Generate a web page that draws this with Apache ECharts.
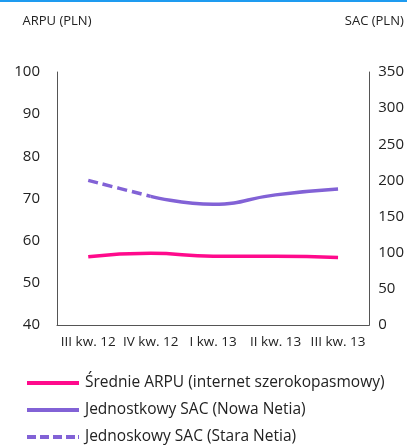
<!DOCTYPE html>
<html>
<head>
<meta charset="utf-8">
<script src="https://cdn.jsdelivr.net/npm/echarts@6/dist/echarts.min.js"></script>
<style>
  html, body { margin: 0; padding: 0; background: #fff; }
  #chart { width: 407px; height: 446px; }
</style>
</head>
<body>
<div id="chart"></div>
<script>
// dane
const quarters = ['III kw. 12', 'IV kw. 12', 'I kw. 13', 'II kw. 13', 'III kw. 13']
const arpu = [56.2, 57.0, 56.3, 56.3, 56.0]
const sacNowa = [null, 178, 167, 180, 188]
const sacStara = [200, 178, null, null, null]
const names = [
  'Średnie ARPU (internet szerokopasmowy)',
  'Jednostkowy SAC (Nowa Netia)',
  'Jednoskowy SAC (Stara Netia)'
]

const font = 'Open Sans'
const txt = '#222'
const pink = '#ff0a8c'
const purple = '#8262d6'

const solidIcon = 'path://M0,0H52V4H0Z'
const dashIcon = 'path://M0,0H9V4H0ZM13,0H22V4H13ZM26,0H35V4H26ZM39,0H48V4H39ZM51,0H52V4H51Z'

function legendAt(top, name, icon) {
  return {
    orient: 'vertical',
    left: 22,
    top: top,
    itemWidth: 54,
    itemHeight: 4,
    icon: icon,
    textStyle: { color: txt, fontSize: 15.5, fontFamily: font },
    data: [name]
  }
}

const myChart = echarts.init(document.getElementById('chart'))
const option = {
  animation: false,
  textStyle: { fontFamily: font },
  graphic: [
    { type: 'rect', left: 0, top: 0, shape: { width: 407, height: 2 }, style: { fill: '#1e9bf0' } }
  ],
  grid: { left: 57, right: 33, top: 72, bottom: 121 },
  legend: [
    legendAt(370, names[0], solidIcon),
    legendAt(397, names[1], solidIcon),
    legendAt(424, names[2], dashIcon)
  ],
  xAxis: {
    type: 'category',
    data: quarters,
    boundaryGap: true,
    axisLine: { lineStyle: { color: '#555' } },
    axisTick: { show: false },
    axisLabel: { color: txt, fontSize: 13.5, margin: 10, interval: 0 }
  },
  yAxis: [
    {
      type: 'value',
      name: 'ARPU (PLN)',
      nameGap: 44,
      nameTextStyle: { color: txt, fontSize: 13 },
      min: 40, max: 100, interval: 10,
      axisLine: { show: true, lineStyle: { color: '#555' } },
      axisTick: { show: false },
      splitLine: { show: false },
      axisLabel: { color: txt, fontSize: 15, margin: 17 }
    },
    {
      type: 'value',
      name: 'SAC (PLN)',
      nameGap: 44,
      nameTextStyle: { color: txt, fontSize: 13, padding: [0, 0, 0, 10] },
      min: 0, max: 350, interval: 50,
      axisLine: { show: true, lineStyle: { color: '#555' } },
      axisTick: { show: false },
      splitLine: { show: false },
      axisLabel: { color: txt, fontSize: 15, margin: 9 }
    }
  ],
  series: [
    {
      name: names[0],
      type: 'line',
      yAxisIndex: 0,
      data: arpu,
      smooth: true,
      symbol: 'none',
      lineStyle: { color: pink, width: 3.5 },
      itemStyle: { color: pink }
    },
    {
      name: names[1],
      type: 'line',
      yAxisIndex: 1,
      data: sacNowa,
      smooth: true,
      symbol: 'none',
      lineStyle: { color: purple, width: 3.5 },
      itemStyle: { color: purple }
    },
    {
      name: names[2],
      type: 'line',
      yAxisIndex: 1,
      data: sacStara,
      smooth: true,
      symbol: 'none',
      lineStyle: { color: purple, width: 3.5, type: [10, 5] },
      itemStyle: { color: purple }
    }
  ]
}
myChart.setOption(option)
</script>
</body>
</html>
